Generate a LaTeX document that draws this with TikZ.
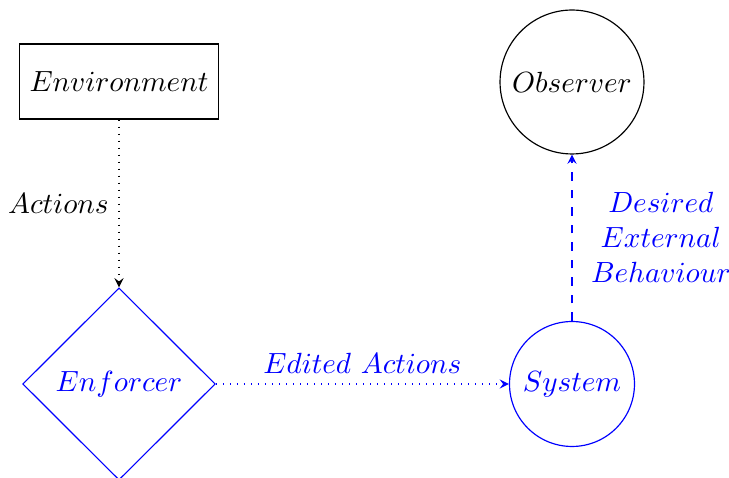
\documentclass[tikz,border=0pt]{standalone}
\usetikzlibrary{shapes.geometric,arrows}
\begin{document}
\begin{tikzpicture}[x=0.3425pt,y=-0.3425pt,>=stealth,
  boxnode/.style={draw,rectangle,minimum height=25.7pt,minimum width=67.8pt},
  observernode/.style={draw,circle,minimum size=49.3pt,inner sep=0pt},
  enforcernode/.style={draw=blue,text=blue,diamond,minimum width=66pt,minimum height=65.8pt,inner sep=0pt},
  systemnode/.style={draw=blue,text=blue,circle,minimum size=42.8pt,inner sep=0pt},
  flow/.style={->,dotted},
  bluelabel/.style={text=blue}]
\useasboundingbox (0,0) rectangle (729,478);
\node[boxnode] (env) at (119,81.5) {$Environment$};
\node[observernode] (obs) at (572,82) {$Observer$};
\node[enforcernode] (enf) at (119,384) {$Enforcer$};
\node[systemnode] (sys) at (572,384) {$System$};
\draw[flow] (env) -- node[left] {$Actions$} (enf);
\draw[flow,blue] (enf) -- node[above,bluelabel] {$Edited\ Actions$} (sys);
\draw[->,dashed,blue] (sys) -- node[right,bluelabel,align=center,xshift=3pt] {$Desired$\\$External$\\$Behaviour$} (obs);
\end{tikzpicture}
\end{document}
